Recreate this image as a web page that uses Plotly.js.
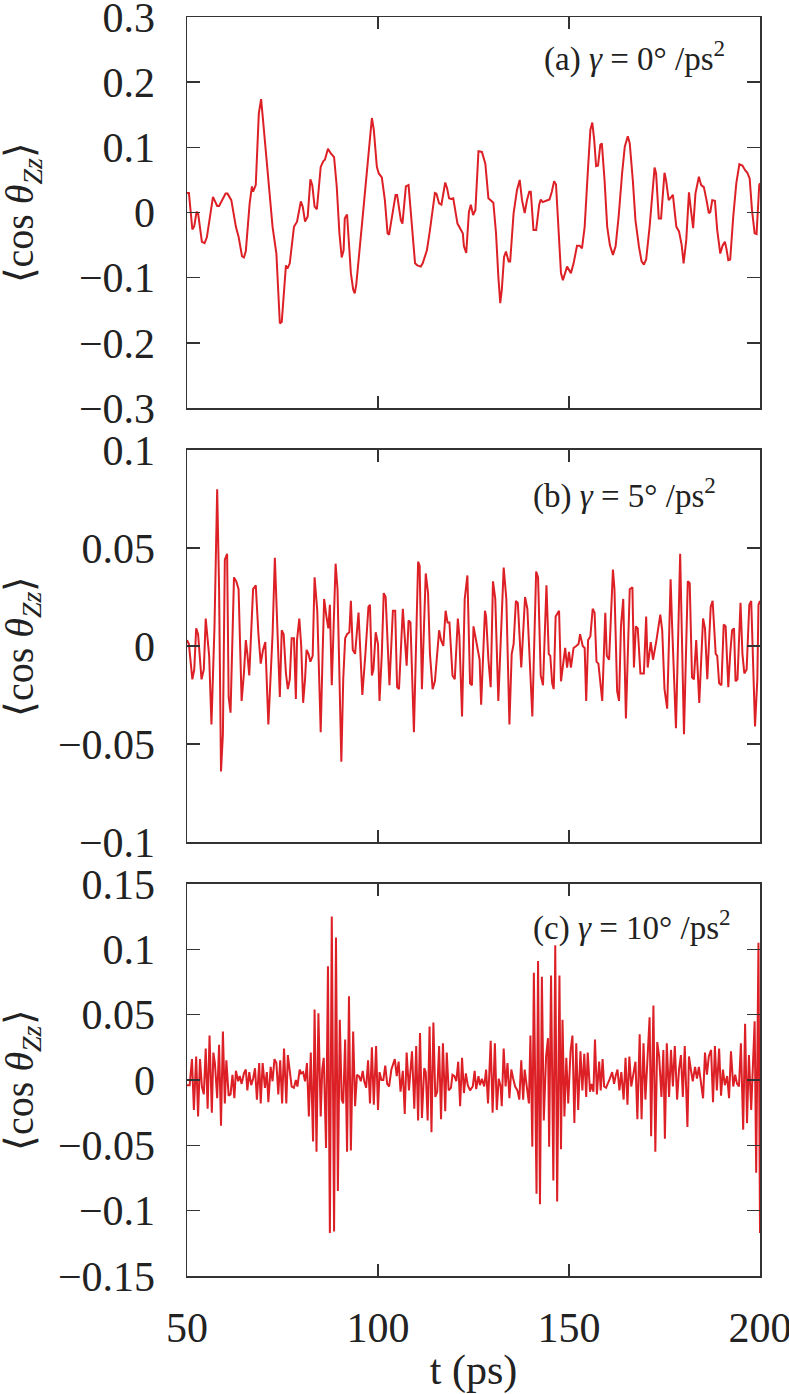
<html><head>
<title>cos theta Zz vs t</title>
<script src="https://cdn.plot.ly/plotly-3.0.1.min.js"></script>
<style>
  body { margin: 0; padding: 0; background: white; }
  #chart { width: 789px; height: 1394px; }
</style>
</head>
<body>
<div id="chart"></div>
<script>
// panel (a) gamma = 0 deg/ps^2
const tA = [50,50.5,51.4,51.9,52.5,52.9,53.9,54.6,55.2,56.4,56.8,57.9,58.4,60.1,60.6,61.6,62.8,63.5,64.4,64.9,65.4,66.4,67.0,67.3,68.0,68.8,69.4,69.9,71.2,72.4,73.4,74.3,74.8,75.4,75.9,76.3,76.9,78.0,78.8,79.8,80.3,80.9,81.6,82.3,82.8,83.4,84.0,85.0,85.7,86.1,86.9,87.6,88.5,89.2,89.9,90.5,91.0,91.3,91.9,92.9,93.5,93.9,94.3,96.0,97.3,98.4,98.9,99.7,100.2,101.0,101.8,102.5,102.9,104.0,104.6,105.0,106.0,106.4,107.3,108.0,109.0,109.7,110.3,111.2,111.7,112.8,113.6,114.9,115.3,116.0,116.6,117.6,118.1,118.6,119.1,119.7,120.8,121.7,122.2,122.5,123.1,123.8,124.3,124.9,125.5,126.3,127.2,128.1,128.9,130.2,130.9,131.5,132.0,132.4,133.0,133.5,134.2,134.6,135.5,136.4,137.1,137.7,138.4,139.0,139.6,140.0,140.7,141.4,142.2,142.6,143.1,144.0,144.9,145.5,146.1,146.6,147.3,147.9,148.4,149.0,149.5,150.5,151.2,152.1,152.8,153.4,154.1,154.9,155.6,156.1,156.6,157.1,157.6,158.2,158.6,159.3,160.0,160.7,161.5,162.2,163.0,163.9,164.6,165.4,165.9,166.7,167.4,168.3,169.0,169.6,170.2,171.1,171.8,172.4,172.8,173.5,174.1,175.0,175.4,176.1,176.8,177.2,178.1,178.8,179.5,180.0,180.7,181.4,181.9,182.5,183.1,184.0,184.6,185.3,186.0,186.6,187.0,187.5,188.2,188.8,189.6,190.2,190.8,191.2,191.7,192.2,193.0,193.8,194.6,195.4,196.1,196.7,197.3,197.9,198.6,199.1,199.8,200.0];
const vA = [0.030,0.030,-0.026,-0.021,0.001,-0.001,-0.045,-0.047,-0.038,0.014,0.024,0.010,0.010,0.029,0.029,0.019,-0.022,-0.037,-0.067,-0.069,-0.059,0.014,0.040,0.032,0.042,0.152,0.174,0.142,0.060,-0.022,-0.063,-0.170,-0.168,-0.114,-0.081,-0.086,-0.078,-0.022,-0.014,0.017,0.009,-0.014,-0.006,0.051,0.042,0.009,0.005,0.070,0.079,0.081,0.098,0.091,0.085,0.040,-0.032,-0.069,-0.058,-0.009,-0.003,-0.093,-0.118,-0.124,-0.111,-0.006,0.081,0.145,0.127,0.070,0.060,0.054,0.019,-0.032,-0.034,0.009,0.027,0.027,-0.012,-0.017,0.040,0.042,-0.022,-0.078,-0.081,-0.083,-0.078,-0.058,-0.027,0.030,0.029,0.014,0.012,0.046,0.037,0.022,0.021,0.022,-0.017,-0.027,-0.032,-0.052,-0.062,0.001,0.012,-0.004,0.004,0.094,0.093,0.075,0.022,0.015,-0.032,-0.098,-0.139,-0.119,-0.068,-0.060,-0.075,-0.075,-0.001,0.035,0.050,0.019,-0.001,0.019,0.032,0.032,-0.027,-0.027,0.012,0.020,0.016,0.018,0.020,0.032,0.048,0.043,-0.022,-0.093,-0.104,-0.091,-0.083,-0.093,-0.078,-0.051,-0.051,-0.055,-0.022,0.060,0.127,0.138,0.111,0.071,0.072,0.104,0.106,0.050,-0.022,-0.050,-0.065,-0.052,-0.006,0.060,0.101,0.117,0.106,0.050,-0.012,-0.052,-0.075,-0.080,-0.072,-0.022,0.029,0.069,0.060,-0.009,-0.009,0.061,0.050,0.019,0.024,0.027,-0.022,-0.029,-0.050,-0.078,-0.042,0.031,0.005,-0.024,0.029,0.055,0.042,0.039,0.019,-0.001,0.001,0.019,0.018,-0.027,-0.063,-0.051,-0.045,-0.055,-0.073,-0.072,-0.006,0.045,0.074,0.072,0.065,0.061,0.052,0.004,-0.032,-0.033,0.042,0.045];

// panel (b) gamma = 5 deg/ps^2
const tB = [50,50.5,51.4,51.9,52.4,52.9,53.8,54.4,54.9,55.8,56.4,57.2,57.9,58.4,58.9,59.4,59.9,60.5,60.9,61.4,62.3,62.9,63.5,64.3,64.9,65.4,65.8,66.3,67.3,68.0,68.7,69.3,69.9,70.5,71.3,72.4,73.0,73.6,74.3,74.8,75.3,75.9,76.4,76.9,77.4,78.0,78.5,78.8,79.4,79.9,80.4,80.9,81.3,81.8,82.3,82.9,83.4,84.1,85.0,85.5,85.9,86.5,87.0,87.4,87.9,88.9,89.4,90.4,90.9,91.4,91.9,92.5,92.9,93.4,94.0,94.9,95.9,96.7,97.5,97.9,98.4,98.8,99.4,100.0,100.4,101.0,101.5,102.0,103.0,103.9,104.5,105.0,105.5,106.5,107.0,107.5,108.0,108.5,109.4,110.5,110.9,111.5,112.5,113.1,113.6,114.3,114.9,115.4,116.0,116.5,117.1,117.7,118.2,118.7,119.5,120.1,120.9,121.3,122.0,122.7,123.4,124.1,124.6,125.0,125.9,126.6,127.0,128.0,128.3,128.9,129.5,130.1,130.7,131.5,132.9,133.6,134.4,135.0,135.5,136.1,136.6,137.5,138.5,139.1,140.4,141.4,141.9,142.6,143.2,144.1,144.7,145.1,145.6,146.0,146.5,147.4,147.9,149.0,149.5,150.0,150.5,151.2,151.9,152.5,152.9,153.6,154.1,154.5,155.0,155.6,156.2,156.7,157.2,157.7,158.7,159.5,159.9,160.5,161.5,161.9,162.6,163.1,163.6,164.2,164.9,165.9,166.6,167.0,167.5,168.0,168.7,169.2,169.6,170.2,170.6,171.4,172.0,172.9,173.9,174.4,175.0,175.7,176.6,177.0,178.0,179.1,180.1,181.1,181.6,182.2,182.7,183.3,184.1,185.1,185.6,186.2,187.1,187.6,188.4,188.8,189.3,189.9,190.5,191.0,191.7,192.2,192.7,193.2,193.6,194.1,194.9,195.4,195.9,196.5,197.2,197.7,198.2,198.7,199.3,199.6,200.0];
const vB = [0.003,0.001,-0.017,-0.012,0.009,0.006,-0.017,-0.012,0.014,-0.005,-0.040,0.010,0.080,0.029,-0.064,-0.045,0.044,0.047,-0.026,-0.034,0.035,0.033,0.029,-0.028,-0.014,0.003,-0.004,-0.015,0.029,0.031,0.006,-0.009,-0.002,0.002,-0.040,0.006,0.045,0.010,-0.026,0.008,0.006,-0.014,-0.022,-0.017,0.004,0.004,-0.027,0.003,0.014,0.000,-0.029,-0.017,-0.002,-0.004,-0.008,-0.005,0.035,0.018,-0.044,-0.004,0.024,0.015,0.009,0.021,-0.020,0.042,0.029,-0.059,-0.017,0.004,0.006,0.007,0.023,-0.002,-0.004,0.017,-0.025,-0.004,0.020,0.021,-0.015,-0.012,0.007,0.001,-0.028,-0.004,0.027,0.025,-0.020,0.018,0.018,-0.021,-0.022,0.019,0.001,-0.010,0.013,0.012,-0.044,0.043,0.041,-0.022,0.037,0.027,-0.004,-0.022,-0.018,-0.004,0.008,0.003,0.000,0.018,0.012,0.012,-0.015,-0.017,0.014,0.005,-0.036,0.024,0.036,-0.019,-0.020,0.010,0.000,-0.007,-0.030,0.018,0.015,-0.007,-0.021,0.033,0.024,-0.028,0.040,0.024,-0.040,-0.004,0.001,0.023,0.022,-0.011,0.025,0.019,-0.036,0.038,0.035,-0.015,-0.020,0.031,-0.004,-0.005,-0.019,-0.022,0.015,0.018,-0.018,-0.001,-0.011,-0.003,-0.011,-0.001,0.000,0.001,0.006,0.000,-0.001,-0.028,0.003,0.005,0.019,0.017,-0.008,-0.009,-0.028,0.017,-0.005,-0.007,0.039,0.029,-0.023,-0.028,0.010,0.024,-0.037,0.029,0.030,-0.011,0.010,0.009,-0.014,-0.014,-0.014,0.015,-0.011,0.002,-0.007,0.003,0.016,0.008,-0.022,-0.032,0.034,0.010,-0.042,0.047,-0.045,0.033,0.032,-0.016,-0.017,0.003,-0.029,0.014,0.009,-0.017,0.020,0.023,-0.004,-0.005,-0.019,-0.020,0.011,0.010,-0.021,-0.004,0.008,0.009,-0.018,-0.017,0.022,-0.004,-0.014,-0.012,0.021,0.023,-0.014,-0.041,-0.017,0.021,0.023];

// panel (c) gamma = 10 deg/ps^2
const tC = [50,50.7,51.3,51.8,52.4,52.9,53.4,53.9,54.4,54.9,55.4,55.9,56.5,56.9,57.3,57.9,58.4,58.9,59.4,59.9,60.3,60.9,61.4,61.9,62.4,62.8,63.4,63.8,64.3,64.9,65.4,65.8,66.3,66.8,67.3,67.8,68.3,68.9,69.3,69.8,70.4,70.9,71.3,71.9,72.4,72.9,73.4,73.9,74.4,74.9,75.4,76.0,76.4,76.9,77.4,78.0,78.5,78.9,79.5,79.9,80.4,80.9,81.4,81.9,82.4,83.0,83.4,83.9,84.4,85.0,85.4,85.8,86.4,86.9,87.4,87.9,88.5,89.0,89.5,90.0,90.5,90.9,91.4,91.9,92.4,92.9,93.5,94.0,94.5,95.0,95.5,96.0,96.4,96.9,97.4,97.9,98.4,98.9,99.5,100.0,100.4,100.9,101.4,101.9,102.4,102.9,103.5,104.4,104.9,105.4,105.9,106.5,107.0,107.5,108.1,108.9,109.5,110.0,110.5,111.0,111.5,112.1,112.5,113.0,113.5,114.0,114.5,115.0,115.5,116.0,116.5,117.0,117.6,118.0,118.5,119.1,119.5,120.0,120.5,121.0,121.5,122.0,122.5,123.0,123.5,124.1,124.8,125.3,125.7,126.3,126.7,127.2,127.8,128.3,128.8,129.5,130.0,130.6,131.1,131.6,132.1,132.4,132.9,133.4,133.9,134.4,134.9,135.4,135.9,136.5,137.0,137.5,138.0,138.4,138.9,139.5,139.9,140.4,140.8,141.5,141.9,142.4,142.9,143.4,144.0,144.5,144.8,145.3,145.9,146.4,146.9,147.5,147.9,148.3,148.8,149.3,149.8,150.4,150.9,151.4,151.9,152.4,153.0,153.5,154.0,154.5,154.9,155.5,155.9,156.4,156.8,157.3,157.9,158.3,158.8,159.2,159.7,160.2,160.7,161.3,161.8,162.2,162.7,163.2,163.7,164.3,164.8,165.3,165.8,166.3,166.9,167.4,167.9,168.5,169.0,169.5,170.0,170.5,171.1,171.5,172.1,172.6,173.1,173.6,174.2,174.7,175.1,175.6,176.2,176.7,177.2,177.7,178.3,178.8,179.3,179.8,180.3,181.0,181.4,181.9,182.4,183.0,183.5,184.0,184.5,185.1,185.6,186.1,186.6,187.2,187.7,188.2,188.7,189.3,189.8,190.3,190.8,191.4,191.9,192.4,193.0,193.5,194.0,194.5,195.0,195.6,196.1,196.6,197.1,197.7,198.2,198.6,199.0,199.6,200.0];
const vC = [-0.004,-0.004,0.016,-0.023,0.018,-0.028,0.016,-0.005,-0.011,0.024,-0.022,0.034,-0.025,0.021,0.013,-0.014,0.027,-0.035,0.037,-0.018,0.015,-0.012,-0.011,0.004,-0.014,0.007,-0.001,0.003,-0.003,0.005,0.008,-0.008,0.006,-0.004,0.001,0.009,-0.015,0.013,-0.018,0.013,-0.006,0.006,-0.017,0.010,-0.001,0.016,0.013,-0.011,0.015,-0.018,0.024,-0.018,0.019,0.006,-0.005,-0.006,0.000,-0.005,0.008,0.005,0.006,-0.001,0.013,-0.028,0.021,-0.047,0.054,-0.055,0.051,-0.028,0.008,0.017,-0.052,0.087,-0.117,0.125,-0.116,0.109,-0.085,0.046,-0.015,-0.018,0.031,-0.055,0.064,-0.054,0.037,-0.020,0.004,0.003,-0.001,0.007,-0.001,-0.006,0.015,-0.018,0.025,-0.019,0.026,-0.023,0.006,0.000,0.000,0.011,-0.003,-0.005,0.008,0.016,0.003,0.014,-0.009,0.007,-0.026,0.021,-0.008,0.022,-0.022,0.026,-0.031,0.036,-0.029,0.009,0.006,-0.031,0.041,-0.040,0.044,-0.013,-0.009,0.026,-0.030,0.028,-0.024,0.021,-0.008,-0.006,0.004,0.003,-0.001,0.014,-0.020,0.017,-0.010,0.005,-0.004,-0.008,-0.005,0.007,-0.007,0.003,-0.004,0.001,-0.005,0.008,-0.018,0.030,-0.025,0.028,-0.023,0.001,-0.005,-0.020,0.024,-0.005,0.013,-0.014,0.008,0.001,-0.005,-0.008,-0.015,0.015,-0.015,0.008,-0.006,-0.018,0.034,-0.051,0.082,-0.087,0.091,-0.095,0.079,-0.031,0.018,0.032,-0.051,0.080,-0.077,0.103,-0.093,0.080,-0.053,0.046,-0.028,0.017,-0.018,0.022,0.034,-0.033,0.028,-0.023,0.022,-0.008,0.020,-0.013,0.021,-0.009,-0.003,-0.009,0.031,-0.011,0.014,-0.008,0.016,-0.005,-0.006,-0.003,0.001,0.006,-0.003,0.003,0.008,-0.008,0.006,-0.015,0.017,-0.019,0.018,-0.005,0.004,0.014,-0.030,0.035,-0.030,0.028,-0.015,0.012,0.048,-0.043,0.057,-0.055,0.029,0.018,-0.013,0.023,-0.045,0.028,-0.013,0.023,-0.005,0.026,-0.015,0.008,0.019,-0.013,0.026,-0.036,0.018,0.008,-0.001,0.010,0.001,0.010,-0.001,-0.014,0.021,0.004,0.018,0.023,-0.017,0.026,-0.008,0.024,-0.012,0.008,-0.004,0.003,-0.014,0.022,-0.005,0.004,-0.003,-0.005,0.028,-0.038,0.043,-0.033,0.019,-0.023,0.015,0.045,-0.071,0.105,-0.117];

// tick positions
const ticksX = [50, 100, 150, 200];
const ticksA = [-0.3, -0.2, -0.1, 0, 0.1, 0.2, 0.3];
const ticksB = [-0.1, -0.05, 0, 0.05, 0.1];
const ticksC = [-0.15, -0.1, -0.05, 0, 0.05, 0.1, 0.15];

const panelLabels = ['(a) <i>γ</i> = 0° /ps<sup>2</sup>', '(b) <i>γ</i> = 5° /ps<sup>2</sup>', '(c) <i>γ</i> = 10° /ps<sup>2</sup>'];
const yTitle = '⟨cos <i>θ</i><sub><i>Zz</i></sub>⟩';

const serif = 'Liberation Serif';
const lineColor = '#dc2026';
const frameColor = '#333333';
const textColor = '#222222';

function trace(t, v, xa, ya) {
  return { x: t, y: v, xaxis: xa, yaxis: ya, type: 'scatter', mode: 'lines',
           line: { color: lineColor, width: 2 }, showlegend: false, hoverinfo: 'skip' };
}

const data = [trace(tA, vA, 'x', 'y'), trace(tB, vB, 'x2', 'y2'), trace(tC, vC, 'x3', 'y3')];

function xAxis(anchor, labels) {
  return {
    anchor: anchor, range: [50, 200], tickmode: 'array', tickvals: ticksX,
    showgrid: false, zeroline: false, showline: true, mirror: 'ticks',
    linecolor: frameColor, linewidth: 1.5,
    ticks: 'inside', ticklen: 12, tickwidth: 1.5, tickcolor: frameColor,
    showticklabels: labels, ticklabelstandoff: 14, ticklabeloverflow: 'allow',
    tickfont: { family: serif, size: 42, color: textColor }
  };
}
function yAxis(anchor, domain, range, tickvals) {
  return {
    anchor: anchor, domain: domain, range: range, tickmode: 'array', tickvals: tickvals,
    showgrid: false, zeroline: false, showline: true, mirror: 'ticks',
    linecolor: frameColor, linewidth: 1.5,
    ticks: 'inside', ticklen: 13, tickwidth: 1.5, tickcolor: frameColor,
    ticklabelstandoff: 22, ticklabeloverflow: 'allow',
    tickfont: { family: serif, size: 42, color: textColor }
  };
}

const xa3 = xAxis('y3', true);
xa3.title = { text: 't (ps)', font: { family: serif, size: 42, color: textColor }, standoff: 14 };

function panelNote(i, yref, x, y) {
  return { text: panelLabels[i], xref: 'paper', yref: yref, x: x, y: y, xanchor: 'right', yanchor: 'middle',
           showarrow: false, font: { family: serif, size: 33, color: textColor } };
}
function yNote(yref) {
  return { text: yTitle, xref: 'paper', yref: yref, x: -0.2880, y: 0.5, xanchor: 'center', yanchor: 'middle',
           textangle: -90, showarrow: false, font: { family: serif, size: 40, color: textColor } };
}

const layout = {
  width: 789, height: 1394,
  font: { family: serif, color: textColor },
  margin: { l: 187, r: 29, t: 17, b: 118 },
  paper_bgcolor: 'white', plot_bgcolor: 'white',
  xaxis: xAxis('y', false),
  xaxis2: xAxis('y2', false),
  xaxis3: xa3,
  yaxis: yAxis('x', [0.6894, 1], [-0.3, 0.3], ticksA),
  yaxis2: yAxis('x2', [0.3447, 0.6561], [-0.1, 0.1], ticksB),
  yaxis3: yAxis('x3', [0, 0.3114], [-0.15, 0.15], ticksC),
  annotations: [
    panelNote(0, 'y domain', 0.942, 0.898),
    panelNote(1, 'y2 domain', 0.927, 0.890),
    panelNote(2, 'y3 domain', 0.953, 0.895),
    yNote('y domain'), yNote('y2 domain'), yNote('y3 domain')
  ]
};

Plotly.newPlot('chart', data, layout, { displayModeBar: false, staticPlot: true });
</script>
</body></html>
